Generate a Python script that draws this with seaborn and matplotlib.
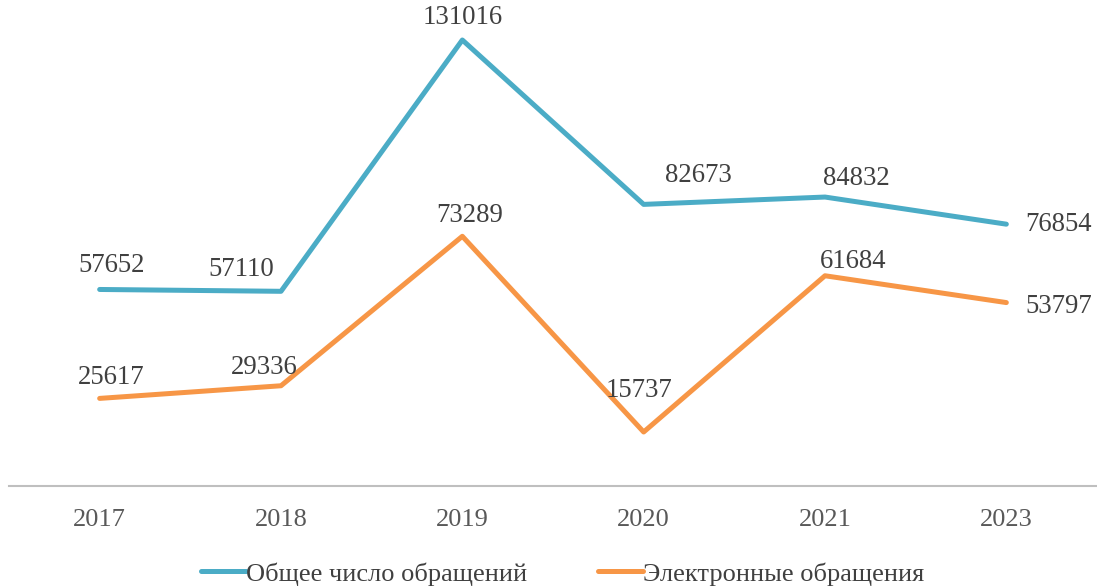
import matplotlib.pyplot as plt
import numpy as np
import pandas as pd
import seaborn as sns

years = ['2017', '2018', '2019', '2020', '2021', '2023']
total = [57652, 57110, 131016, 82673, 84832, 76854]
electronic = [25617, 29336, 73289, 15737, 61684, 53797]
series_names = ['Общее число обращений', 'Электронные обращения']

df = pd.DataFrame({
    'year': years * 2,
    'value': total + electronic,
    'series': [series_names[0]] * len(years) + [series_names[1]] * len(years),
})

sns.set_style('white')
plt.rcParams['font.family'] = ['Liberation Serif', 'DejaVu Serif']

fig = plt.figure(figsize=(10.97, 5.87), dpi=100)
ax = fig.add_axes([0.0082, 0.1729, 0.9918, 0.811])

palette = {series_names[0]: '#4BACC6', series_names[1]: '#F79646'}
sns.lineplot(data=df, x='year', y='value', hue='series', palette=palette,
             linewidth=3.6, sort=False, legend=False, ax=ax)

# label offsets in pixels (dx, dy)
off_total = [(12, 24), (-40, 22), (0, 22), (55, 29), (31, 19), (52, 0)]
off_el = [(12, 21), (-17, 18), (7, 21), (-5, 41), (28, 14), (52, -4)]
for i, (v, o) in enumerate(zip(total, off_total)):
    ax.annotate(str(v), (i, v), xytext=o, textcoords='offset pixels',
                ha='center', va='center', fontsize=19.3, color='#404040')
for i, (v, o) in enumerate(zip(electronic, off_el)):
    ax.annotate(str(v), (i, v), xytext=o, textcoords='offset pixels',
                ha='center', va='center', fontsize=19.3, color='#404040')

ax.set_xlim(-0.5, 5.5)
ax.set_ylim(0, 140000)
ax.set_yticks([])
ax.set_xlabel('')
ax.set_ylabel('')
for s in ['top', 'right', 'left']:
    ax.spines[s].set_visible(False)
ax.spines['bottom'].set_color('#BFBFBF')
ax.spines['bottom'].set_linewidth(1.5)
ax.tick_params(axis='x', length=0, labelsize=19, labelcolor='#595959', pad=17)

handles = [plt.Line2D([], [], color=palette[n], linewidth=3.6) for n in series_names]
fig.legend(handles, series_names, loc='lower center', bbox_to_anchor=(0.513, -0.038),
           ncol=2, frameon=False, fontsize=19, labelcolor='#404040',
           handlelength=1.7, handletextpad=0.0, columnspacing=2.7)

fig.savefig('out.png', dpi=100)
